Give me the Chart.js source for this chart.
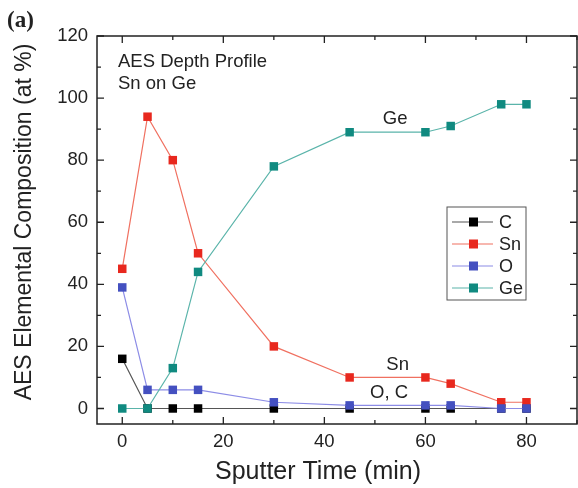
<!DOCTYPE html>
<html>
<head>
<meta charset="utf-8">
<script src="https://cdn.jsdelivr.net/npm/chart.js@4"></script>
<style>
html,body{margin:0;padding:0;background:#fff;}
#wrap{position:relative;width:578px;height:488px;}
</style>
</head>
<body>
<div id="wrap"><canvas id="c" width="578" height="488"></canvas></div>
<script>
const times = [0, 5, 10, 15, 30, 45, 60, 65, 75, 80];
const seriesNames = ['C', 'Sn', 'O', 'Ge'];
const cValues  = [16, 0, 0, 0, 0, 0, 0, 0, 0, 0];
const snValues = [45, 94, 80, 50, 20, 10, 10, 8, 2, 2];
const oValues  = [39, 6, 6, 6, 2, 1, 1, 1, 0, 0];
const geValues = [0, 0, 13, 44, 78, 89, 89, 91, 98, 98];
const xTicks = [0, 20, 40, 60, 80];
const yTicks = [0, 20, 40, 60, 80, 100, 120];
const xTitle = 'Sputter Time (min)';
const yTitle = 'AES Elemental Composition (at %)';

const FONT = '"Liberation Sans", Arial, sans-serif';
const styles = [
  {line:'#555555', marker:'#000000'},
  {line:'#f07060', marker:'#e8281e'},
  {line:'#8c8ce6', marker:'#4450c0'},
  {line:'#5ab4aa', marker:'#108a80'}
];
const allValues = [cValues, snValues, oValues, geValues];

const datasets = allValues.map((vals, i) => ({
  label: seriesNames[i],
  data: times.map((t, k) => ({x: t, y: vals[k]})),
  showLine: true,
  borderColor: styles[i].line,
  borderWidth: 1.2,
  backgroundColor: styles[i].marker,
  pointBackgroundColor: styles[i].marker,
  pointBorderColor: styles[i].marker,
  pointStyle: 'rect',
  pointRadius: 6,
  pointBorderWidth: 0,
  order: 4 - i
}));

const framePlugin = {
  id: 'frame',
  afterDatasetsDraw(chart) {
    const ctx = chart.ctx;
    const a = chart.chartArea;
    const xs = chart.scales.x, ys = chart.scales.y;
    ctx.save();
    ctx.strokeStyle = '#222';
    ctx.lineWidth = 1.5;
    ctx.strokeRect(a.left, a.top, a.right - a.left, a.bottom - a.top);
    ctx.lineWidth = 1.3;
    for (let v = 0; v <= 90; v += 10) {
      const px = xs.getPixelForValue(v);
      const len = (v % 20 === 0) ? 7 : 4;
      ctx.beginPath();
      ctx.moveTo(px, a.bottom); ctx.lineTo(px, a.bottom - len);
      ctx.moveTo(px, a.top); ctx.lineTo(px, a.top + len);
      ctx.stroke();
    }
    for (let v = 0; v <= 120; v += 10) {
      const py = ys.getPixelForValue(v);
      const len = (v % 20 === 0) ? 7 : 4;
      ctx.beginPath();
      ctx.moveTo(a.left, py); ctx.lineTo(a.left + len, py);
      ctx.moveTo(a.right, py); ctx.lineTo(a.right - len, py);
      ctx.stroke();
    }
    ctx.fillStyle = '#222';
    ctx.font = '25px ' + FONT;
    ctx.textAlign = 'center';
    ctx.textBaseline = 'middle';
    ctx.fillText(xTitle, 318, 472);
    ctx.save();
    ctx.translate(25, 222);
    ctx.rotate(-Math.PI / 2);
    ctx.font = '23px ' + FONT;
    ctx.fillText(yTitle, 0, 0);
    ctx.restore();
    ctx.font = '18.5px ' + FONT;
    ctx.textAlign = 'left';
    ctx.textBaseline = 'alphabetic';
    ctx.fillText('AES Depth Profile', 118, 67);
    ctx.fillText('Sn on Ge', 118, 89);
    ctx.textAlign = 'center';
    ctx.fillText('Ge', xs.getPixelForValue(54), ys.getPixelForValue(91.5));
    ctx.fillText('Sn', xs.getPixelForValue(54.5), ys.getPixelForValue(12.5));
    ctx.fillText('O, C', xs.getPixelForValue(52.8), ys.getPixelForValue(3.5));
    ctx.font = 'bold 23px "Liberation Serif", "Times New Roman", serif';
    ctx.textAlign = 'left';
    ctx.fillText('(a)', 7, 27);
    const lx = 447, ly = 207, lw = 79, lh = 93;
    ctx.fillStyle = '#fff';
    ctx.fillRect(lx, ly, lw, lh);
    ctx.strokeStyle = '#555';
    ctx.lineWidth = 1;
    ctx.strokeRect(lx, ly, lw, lh);
    chart.data.datasets.forEach((ds, i) => {
      const yy = 222 + i * 22;
      ctx.strokeStyle = ds.borderColor;
      ctx.lineWidth = 1.2;
      ctx.beginPath();
      ctx.moveTo(lx + 5, yy); ctx.lineTo(lx + 46, yy);
      ctx.stroke();
      ctx.fillStyle = ds.pointBackgroundColor;
      ctx.fillRect(lx + 22, yy - 4.5, 9, 9);
      ctx.fillStyle = '#222';
      ctx.font = '18px ' + FONT;
      ctx.textAlign = 'left';
      ctx.textBaseline = 'middle';
      ctx.fillText(ds.label, lx + 52, yy + 1);
    });
    ctx.restore();
  }
};

new Chart(document.getElementById('c'), {
  type: 'scatter',
  data: { datasets },
  options: {
    responsive: false,
    animation: false,
    devicePixelRatio: 1,
    layout: { autoPadding: false, padding: { top: 36, right: 1, left: 0, bottom: 0 } },
    plugins: { legend: { display: false }, tooltip: { enabled: false } },
    scales: {
      x: {
        type: 'linear', min: -5, max: 90,
        afterBuildTicks(s) { s.ticks = xTicks.map(v => ({value: v})); },
        afterFit(s) { s.height = 64; s.paddingLeft = 0; s.paddingRight = 0; },
        grid: { display: false, drawTicks: false },
        border: { display: false },
        ticks: { color: '#222', font: { family: FONT, size: 18.5 }, padding: 7 },
        title: { display: false }
      },
      y: {
        type: 'linear', min: -5, max: 120,
        afterBuildTicks(s) { s.ticks = yTicks.map(v => ({value: v})); },
        afterFit(s) { s.width = 97; s.paddingTop = 0; s.paddingBottom = 0; },
        grid: { display: false, drawTicks: false },
        border: { display: false },
        ticks: { color: '#222', font: { family: FONT, size: 18.5 }, padding: 9 },
        title: { display: false }
      }
    }
  },
  plugins: [framePlugin]
});
</script>
</body>
</html>
